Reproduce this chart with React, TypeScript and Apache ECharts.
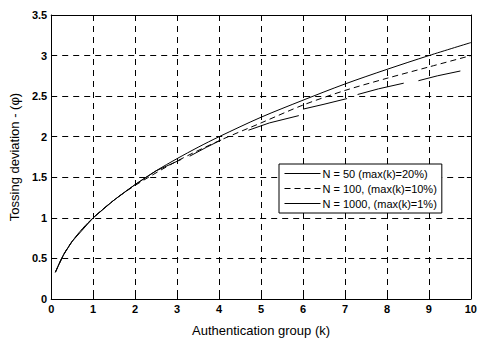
import React, { useEffect, useRef } from "react";
import * as echarts from "echarts";

const xTicks = [0, 1, 2, 3, 4, 5, 6, 7, 8, 9, 10];
const yTicks = [0, 0.5, 1, 1.5, 2, 2.5, 3, 3.5];

const legendNames = [
  "N = 50 (max(k)=20%)",
  "N = 100, (max(k)=10%)",
  "N = 1000, (max(k)=1%)",
];

// N = 50 : null marks a gap in the drawn line
const n50X = [0.1, 0.3, 0.5, 1, 1.5, 2, 2.5, 3.1, 3.2, 3.3, 3.7, 4.05, 4.4, 4.7, 5.2, 5.9, 5.95, 6.0, 6.5, 7.05, 7.2, 7.3, 7.8, 8.4, 8.6, 8.75, 9.2, 9.75];
const n50Y = [0.33, 0.55, 0.71, 1.0, 1.22, 1.41, 1.58, 1.72, null, 1.76, 1.87, 1.96, null, 2.08, 2.17, 2.26, null, 2.34, 2.40, 2.47, null, 2.52, 2.59, 2.66, null, 2.69, 2.75, 2.81];

// N = 100
const n100X = [0.1, 0.3, 0.5, 1, 1.5, 2, 3, 4, 5, 6, 7, 8, 9, 10];
const n100Y = [0.33, 0.55, 0.71, 1.0, 1.22, 1.4, 1.7, 1.95, 2.17, 2.39, 2.57, 2.72, 2.86, 3.0];

// N = 1000
const n1000X = [0.1, 0.2, 0.3, 0.5, 0.75, 1, 1.5, 2, 2.5, 3, 3.5, 4, 5, 6, 7, 8, 9, 10];
const n1000Y = [0.33, 0.45, 0.55, 0.71, 0.87, 1.0, 1.22, 1.41, 1.58, 1.73, 1.87, 2.0, 2.24, 2.45, 2.65, 2.83, 3.0, 3.16];

const pairs = (xs: number[], ys: (number | null)[]) =>
  xs.map((x, i) => [x, ys[i] === null ? "-" : ys[i]]);

export default function App() {
  const ref = useRef<HTMLDivElement>(null);
  useEffect(() => {
    if (!ref.current) return;
    const chart = echarts.init(ref.current, null, { renderer: "svg" });
    const font = "'Liberation Sans', Arial, sans-serif";
    const gridLine = { show: true, lineStyle: { color: "#000", type: [6, 5] as any, width: 1 } };
    const axisCommon = {
      axisLine: { show: true, onZero: false, lineStyle: { color: "#000", width: 1 } },
      axisTick: { show: true, inside: true, length: 4, lineStyle: { color: "#000" } },
    };
    chart.setOption({
      animation: false,
      backgroundColor: "#fff",
      textStyle: { fontFamily: font },
      grid: { left: 46, right: 6, top: 15, bottom: 41, containLabel: false },
      xAxis: [
        {
          type: "value",
          min: 0,
          max: 10,
          interval: 1,
          position: "bottom",
          name: "Authentication group (k)",
          nameLocation: "middle",
          nameGap: 25,
          nameTextStyle: { fontSize: 13, color: "#000", fontFamily: font },
          axisLabel: {
            fontSize: 11,
            fontWeight: "bold",
            color: "#000",
            margin: 4,
            formatter: (v: number) => (xTicks.includes(v) ? String(v) : ""),
          },
          splitLine: gridLine,
          ...axisCommon,
        },
        {
          type: "value",
          min: 0,
          max: 10,
          interval: 1,
          position: "top",
          axisLabel: { show: false },
          splitLine: { show: false },
          ...axisCommon,
        },
      ],
      yAxis: [
        {
          type: "value",
          min: 0,
          max: 3.5,
          interval: 0.5,
          position: "left",
          name: "Tossing deviation - (φ)",
          nameLocation: "middle",
          nameGap: 28,
          nameTextStyle: { fontSize: 13, color: "#000", fontFamily: font },
          axisLabel: {
            fontSize: 11,
            fontWeight: "bold",
            color: "#000",
            margin: 4,
            formatter: (v: number) => (yTicks.includes(v) ? String(v) : ""),
          },
          splitLine: gridLine,
          ...axisCommon,
        },
        {
          type: "value",
          min: 0,
          max: 3.5,
          interval: 0.5,
          position: "right",
          axisLabel: { show: false },
          splitLine: { show: false },
          ...axisCommon,
        },
      ],
      legend: {
        orient: "vertical",
        left: 279,
        top: 164,
        backgroundColor: "#fff",
        borderColor: "#000",
        borderWidth: 1,
        borderRadius: 0,
        padding: [4, 5, 4, 5],
        itemGap: 4,
        itemWidth: 36,
        itemHeight: 12,
        itemStyle: { color: "transparent", borderWidth: 0, opacity: 0 },
        lineStyle: { width: 1 },
        textStyle: { fontSize: 11, color: "#000", fontFamily: font, padding: [0, 0, 0, -3] },
        data: legendNames,
      },
      series: [
        {
          name: legendNames[0],
          type: "line",
          data: pairs(n50X, n50Y),
          symbol: "none",
          connectNulls: false,
          lineStyle: { color: "#000", width: 1, type: "solid" },
          itemStyle: { color: "#000" },
        },
        {
          name: legendNames[1],
          type: "line",
          data: pairs(n100X, n100Y),
          symbol: "none",
          smooth: 0.3,
          lineStyle: { color: "#000", width: 1, type: [6, 4] },
          itemStyle: { color: "#000" },
        },
        {
          name: legendNames[2],
          type: "line",
          data: pairs(n1000X, n1000Y),
          symbol: "none",
          smooth: 0.3,
          lineStyle: { color: "#000", width: 1, type: "solid" },
          itemStyle: { color: "#000" },
        },
      ],
    });
    return () => chart.dispose();
  }, []);
  return (
    <div
      ref={ref}
      style={{ position: "absolute", left: 0, top: 0, width: 480, height: 342 }}
    />
  );
}
